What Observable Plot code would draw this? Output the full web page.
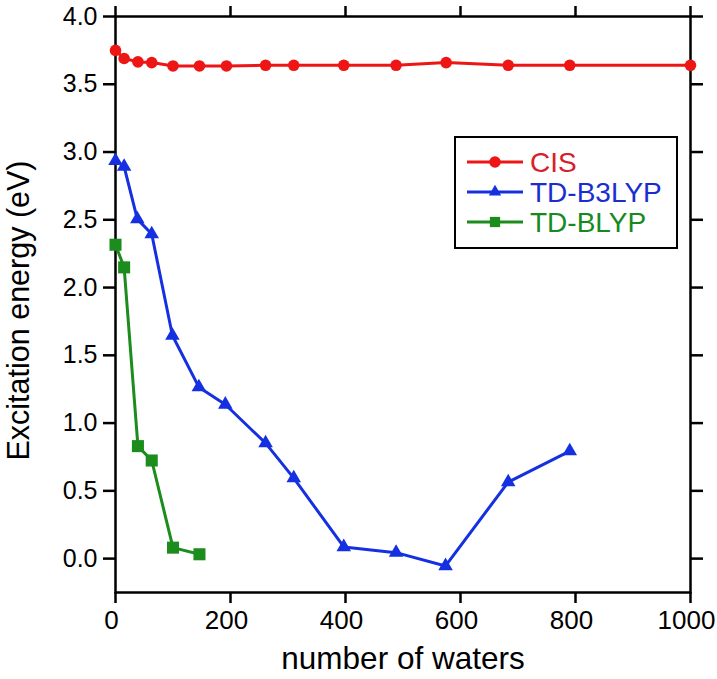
<!DOCTYPE html>
<html>
<head>
<meta charset="utf-8">
<script src="https://cdn.jsdelivr.net/npm/d3@7"></script>
<script src="https://cdn.jsdelivr.net/npm/@observablehq/plot@0.6"></script>
<style>
  html, body { margin: 0; padding: 0; background: #fff; }
  svg { display: block; }
</style>
</head>
<body>
<div id="chart"></div>
<script>
// ---- Data ----
const seriesNames = ["CIS", "TD-B3LYP", "TD-BLYP"];
const cisX = [0, 15, 39, 63, 100, 146, 193, 261, 310, 397, 488, 575, 683, 790, 1000];
const cisY = [3.75, 3.69, 3.665, 3.66, 3.635, 3.635, 3.635, 3.64, 3.64, 3.64, 3.64, 3.66, 3.64, 3.64, 3.64];
const b3lypX = [0, 15, 38, 63, 99, 145, 191, 261, 310, 397, 488, 574, 683, 790];
const b3lypY = [2.935, 2.893, 2.505, 2.395, 1.646, 1.265, 1.137, 0.852, 0.594, 0.086, 0.044, -0.054, 0.565, 0.793];
const blypX = [0, 15, 39, 63, 100, 146];
const blypY = [2.316, 2.149, 0.83, 0.724, 0.081, 0.032];
const xTicks = [0, 200, 400, 600, 800, 1000];
const yTicks = [0, 0.5, 1.0, 1.5, 2.0, 2.5, 3.0, 3.5, 4.0];
const xTitle = "number of waters";
const yTitle = "Excitation energy (eV)";

// ---- Styles ----
const colors = {"CIS": "#ee1515", "TD-B3LYP": "#1530e0", "TD-BLYP": "#1c8c1c"};
const textColors = {"CIS": "#d8202a", "TD-B3LYP": "#1a2ed0", "TD-BLYP": "#17891f"};
const symbols = {"CIS": "circle", "TD-B3LYP": "triangle", "TD-BLYP": "square"};
const radii = {"CIS": 5.8, "TD-B3LYP": 5.4, "TD-BLYP": 6.8};

const toRows = (name, xs, ys) => xs.map((x, i) => ({series: name, x, y: ys[i]}));
const data = {
  "CIS": toRows("CIS", cisX, cisY),
  "TD-B3LYP": toRows("TD-B3LYP", b3lypX, b3lypY),
  "TD-BLYP": toRows("TD-BLYP", blypX, blypY)
};

const font = "'Liberation Sans', Arial, Helvetica, sans-serif";

const marks = [
  Plot.frame({stroke: "black", strokeWidth: 2.5}),
  // bottom ticks (no labels) + labels shifted slightly left as in the reference
  Plot.axisX({ticks: xTicks, tickSize: 11, strokeWidth: 2.5, label: null, tickFormat: () => ""}),
  Plot.axisX({ticks: xTicks, tickSize: 0, tickPadding: 18, fontSize: 26, label: null, tickFormat: d3.format("d"), dx: -4}),
  Plot.axisX({anchor: "top", ticks: xTicks, tickSize: 11, strokeWidth: 2.5, label: null, tickFormat: () => ""}),
  Plot.axisY({ticks: yTicks, tickSize: 12, tickPadding: 6, fontSize: 25, strokeWidth: 2.5, label: null, tickFormat: d3.format(".1f")}),
  Plot.axisY({anchor: "right", ticks: yTicks, tickSize: 12, strokeWidth: 2.5, label: null, tickFormat: () => ""}),
  Plot.text([xTitle], {frameAnchor: "bottom", dy: 66, fontSize: 31.5, textAnchor: "middle", lineAnchor: "middle", fill: "black"}),
  Plot.text([yTitle], {frameAnchor: "left", dx: -96, dy: 6, rotate: -90, fontSize: 30.5, textAnchor: "middle", lineAnchor: "middle", fill: "black"})
];
for (const name of seriesNames) {
  marks.push(Plot.line(data[name], {x: "x", y: "y", stroke: colors[name], strokeWidth: 3}));
  marks.push(Plot.dot(data[name], {x: "x", y: "y", symbol: symbols[name], r: radii[name], fill: colors[name], stroke: "none"}));
}

const chart = Plot.plot({
  width: 717,
  height: 679,
  marginLeft: 115,
  marginRight: 27,
  marginTop: 16,
  marginBottom: 87,
  x: {domain: [0, 1000]},
  y: {domain: [-0.25, 4.0]},
  style: {fontFamily: font, background: "white", color: "black", overflow: "visible"},
  marks
});
document.getElementById("chart").appendChild(chart);

// ---- Legend (inside the plot area) ----
const svg = d3.select(chart);
const lg = svg.append("g").attr("font-family", font).attr("text-anchor", "start");
lg.append("rect").attr("x", 455).attr("y", 137).attr("width", 222).attr("height", 111)
  .attr("fill", "white").attr("stroke", "black").attr("stroke-width", 2);
seriesNames.forEach((name, i) => {
  const cy = 162 + i * 30;
  lg.append("line").attr("x1", 467).attr("x2", 523).attr("y1", cy).attr("y2", cy)
    .attr("stroke", colors[name]).attr("stroke-width", 3);
  const sym = {circle: d3.symbolCircle, triangle: d3.symbolTriangle, square: d3.symbolSquare}[symbols[name]];
  const r = radii[name] * (name === "CIS" ? 1 : 0.85);
  lg.append("path").attr("d", d3.symbol(sym, Math.PI * r * r)())
    .attr("transform", `translate(495,${cy})`).attr("fill", colors[name]);
  lg.append("text").attr("x", 530).attr("y", cy).attr("dy", "0.36em")
    .attr("text-anchor", "start")
    .attr("font-size", 28).attr("fill", textColors[name]).text(name);
});
</script>
</body>
</html>
